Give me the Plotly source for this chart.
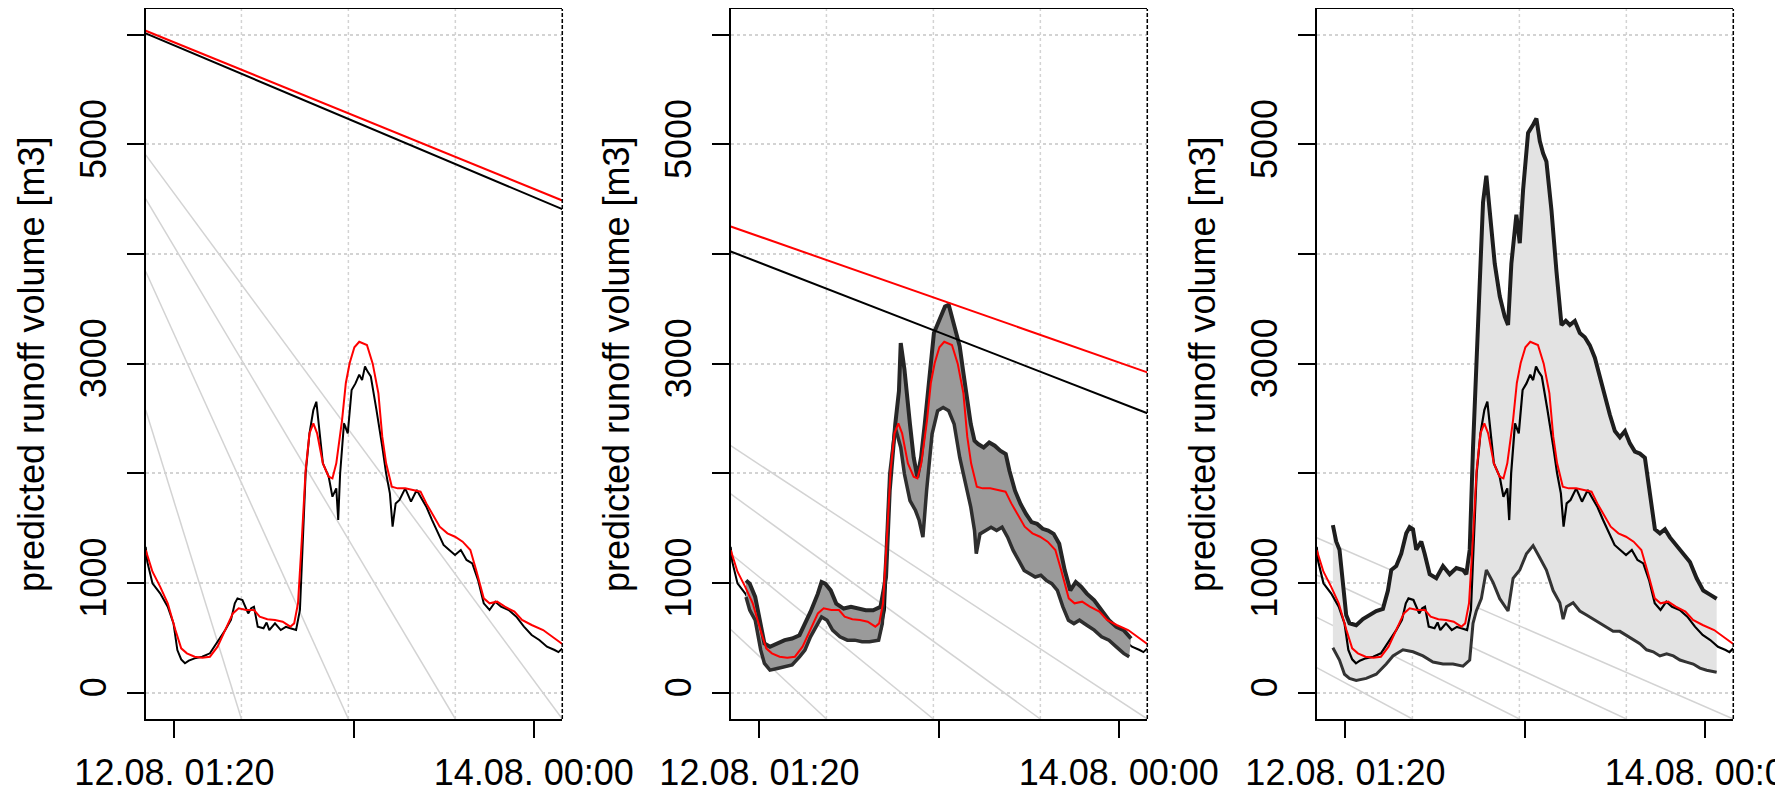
import plotly.graph_objects as go

FONT = "Liberation Sans, Arial, Helvetica, sans-serif"

# ---------------- data (time in hours since 11.08. 00:00) ----------------
X_RANGE = [21.6, 75.7]
Y_RANGE = [-240, 6234]
x_tick_hours = [25.3333, 48.6667, 72.0]
x_tick_labels = ["12.08. 01:20", "", "14.08. 00:00"]
y_tick_vals = [0, 1000, 2000, 3000, 4000, 5000, 6000]
y_tick_labels = ["0", "1000", "", "3000", "", "5000", ""]
grid_hours = [34.03, 47.92, 61.81, 75.70]
y_title = "predicted runoff volume [m3]"

# observed / single prediction (black)
obs_t = [21.6, 21.8, 22.48, 23.47, 24.46, 25.21, 25.71, 26.21, 26.7, 27.20, 27.95, 28.94, 29.94,
         30.93, 31.93, 32.67, 33.17, 33.52, 34.16, 34.91, 35.3, 35.66, 36.15, 36.90, 37.3,
         37.65, 38.39, 39.14, 39.8, 40.38, 41.13, 41.63, 41.87, 42.12, 42.37, 42.87, 43.37,
         43.76, 44.11, 44.61, 45.36, 45.85, 46.35, 46.60, 46.85, 47.35, 47.84, 48.34, 48.84,
         49.33, 49.7, 50.08, 50.4, 50.83, 51.57, 51.82, 52.32, 52.82, 53.31, 53.66, 54.06,
         54.56, 55.30, 56.05, 56.80, 57.29, 58.04, 58.79, 59.53, 60.28, 61.02, 61.77, 62.52,
         63.26, 64.01, 64.76, 65.50, 66.25, 67.00, 67.74, 68.74, 69.73, 70.72, 71.72, 72.71,
         73.71, 74.70, 75.2, 75.70]
obs_v = [1330, 1195, 997, 906, 784, 632, 389, 304, 268, 292, 313, 328, 359,
         465, 571, 663, 815, 860, 845, 723, 770, 784, 602, 587, 640,
         571, 632, 571, 600, 587, 571, 754, 1179, 1544, 2000, 2365, 2577,
         2653, 2395, 2091, 1970, 1787, 1863, 1574, 2000, 2456, 2365, 2760, 2820,
         2900, 2850, 2975, 2930, 2884, 2577, 2471, 2243, 2000, 1818, 1514, 1726,
         1757, 1863, 1742, 1848, 1787, 1696, 1574, 1453, 1347, 1301, 1255, 1301,
         1210, 1179, 1027, 815, 754, 830, 784, 754, 693, 602, 526, 480,
         419, 389, 370, 404]

# smoothed prediction (red)
smooth_t = [21.6, 22.48, 23.47, 24.46, 25.46, 26.21, 26.95, 27.95, 28.94, 29.94, 30.93, 31.93,
            32.92, 33.67, 34.66, 35.66, 36.40, 37.40, 38.39, 39.39, 40.38, 40.88, 41.38,
            41.87, 42.37, 42.87, 43.37, 43.86, 44.61, 45.36, 45.85, 46.35, 47.10, 47.59,
            48.09, 48.7, 49.33, 50.33, 51.08, 51.82, 52.32, 52.82, 53.56, 54.31, 55.30,
            56.30, 57.29, 58.04, 58.79, 59.78, 60.78, 61.77, 62.76, 63.76, 64.51, 65.50,
            66.25, 67.24, 68.24, 69.48, 70.47, 71.72, 73.21, 74.46, 75.70]
smooth_v = [1300, 1103, 967, 815, 571, 404, 359, 328, 319, 328, 419, 571,
            723, 769, 754, 754, 693, 669, 663, 647, 602, 632, 815,
            1392, 2030, 2365, 2456, 2365, 2091, 1970, 1954, 2091, 2486, 2824,
            3006, 3150, 3200, 3170, 3000, 2729, 2334, 2091, 1878, 1863, 1863,
            1848, 1833, 1726, 1635, 1514, 1453, 1422, 1377, 1301, 1119, 860,
            815, 830, 784, 739, 663, 617, 571, 511, 444]

# straight reference lines, values at the left and right ends of the x range
line_black_p1 = [6012, 4409]
line_red_p1 = [6036, 4488]
line_black_p2 = [4023, 2548]
line_red_p2 = [4251, 2921]

# light grey guide lines: value at the left edge, reaching the bottom at grid_hours
guide_start_p1 = [2577, 3841, 4503, 4904]
guide_start_p2 = [576, 1267, 1812, 2252]
guide_start_p3 = [228, 687, 1073, 1413]

# ensemble envelope, panel 2
ens2_up_t = [23.59, 24.07, 24.78, 25.50, 25.98, 26.70, 27.65, 28.61, 29.57, 30.53, 31.24, 31.96,
             32.92, 33.40, 33.88, 34.59, 35.31, 36.27, 37.22, 38.18, 39.14, 40.10, 41.05,
             41.77, 42.25, 42.97, 43.45, 43.68, 44.16, 44.88, 45.36, 45.84, 46.32, 46.80,
             47.51, 47.99, 48.71, 49.43, 49.91, 50.38, 50.86, 51.34, 51.82, 52.30, 52.78,
             53.26, 53.73, 54.45, 55.17, 55.89, 56.60, 57.32, 57.80, 58.52, 59.24, 59.95,
             60.67, 61.39, 62.11, 62.83, 63.54, 64.26, 64.98, 65.70, 66.41, 67.13, 67.85,
             68.81, 69.76, 70.72, 71.68, 72.63, 73.59]
ens2_up_v = [1024, 994, 873, 630, 448, 418, 448, 479, 494, 524, 630, 736,
             903, 1009, 994, 933, 812, 767, 782, 767, 752, 752, 782,
             1055, 1842, 2448, 2752, 3188, 2950, 2448, 2145, 1964, 2145, 2448,
             2975, 3279, 3400, 3522, 3537, 3400, 3279, 3158, 2915, 2690, 2448,
             2297, 2267, 2236, 2282, 2252, 2206, 2176, 2024, 1842, 1721, 1630,
             1555, 1539, 1494, 1479, 1448, 1358, 1115, 933, 1009, 964, 903,
             842, 752, 661, 600, 570, 494]
ens2_lo_t = [23.59, 24.07, 24.78, 25.50, 25.98, 26.70, 27.65, 28.61, 29.57, 30.53, 31.24, 31.96,
             32.92, 33.40, 34.11, 34.83, 35.79, 36.75, 37.70, 38.66, 39.62, 40.81, 41.29,
             41.77, 42.25, 42.97, 43.68, 44.16, 44.88, 45.60, 46.08, 46.56, 47.04, 47.75,
             48.47, 49.19, 49.91, 50.62, 51.34, 52.06, 52.78, 53.26, 53.49, 53.97, 54.69,
             55.41, 56.13, 56.84, 57.56, 58.28, 59.00, 59.71, 60.43, 61.15, 61.87, 62.58,
             63.30, 64.02, 64.74, 65.46, 66.17, 66.89, 67.85, 68.81, 69.76, 70.72, 71.68,
             72.63, 73.35]
ens2_lo_v = [873, 752, 661, 388, 267, 206, 221, 236, 252, 327, 388, 509,
             630, 691, 661, 570, 509, 479, 479, 464, 464, 479, 630,
             1236, 1994, 2418, 2236, 1994, 1752, 1661, 1570, 1418, 1842, 2358,
             2570, 2600, 2570, 2448, 2145, 1903, 1691, 1479, 1267, 1448, 1479,
             1509, 1479, 1509, 1418, 1297, 1206, 1115, 1085, 1055, 1070, 1024,
             994, 933, 782, 661, 630, 661, 615, 570, 509, 479, 418,
             358, 327]

# ensemble envelope, panel 3
ens3_up_t = [23.70, 24.13, 24.56, 25.00, 25.43, 25.86, 26.73, 27.60, 28.46, 29.33, 30.20, 30.85,
             31.28, 31.93, 32.58, 33.23, 33.67, 34.10, 34.53, 35.18, 35.62, 36.27, 37.13,
             38.00, 38.87, 39.73, 40.60, 41.03, 41.47, 41.90, 42.55, 43.20, 43.63, 44.07,
             44.72, 45.37, 46.02, 46.45, 46.88, 47.53, 47.97, 48.40, 49.05, 49.70, 50.13,
             50.57, 51.00, 51.43, 52.09, 52.74, 53.39, 53.95, 54.47, 55.12, 55.77, 56.42,
             57.07, 57.72, 58.37, 59.02, 59.67, 60.32, 60.97, 61.62, 62.27, 62.92, 63.57,
             64.22, 64.87, 65.52, 66.17, 66.82, 67.47, 68.34, 69.20, 70.07, 70.94, 71.80,
             72.67, 73.54]
ens3_up_v = [1528, 1379, 1304, 1006, 708, 633, 615, 671, 708, 745, 764, 931,
             1118, 1155, 1267, 1453, 1509, 1490, 1304, 1379, 1267, 1080, 1043,
             1155, 1080, 1136, 1118, 1080, 1304, 2235, 3353, 4471, 4713, 4396,
             3912, 3614, 3428, 3353, 3912, 4359, 4098, 4583, 5104, 5179, 5235,
             5030, 4918, 4844, 4396, 3837, 3353, 3390, 3353, 3390, 3279, 3241,
             3167, 3055, 2869, 2720, 2534, 2385, 2329, 2385, 2273, 2198, 2180,
             2142, 1826, 1490, 1453, 1490, 1416, 1341, 1267, 1192, 1043, 931,
             894, 857]
ens3_lo_t = [23.70, 24.56, 25.21, 25.86, 26.73, 28.03, 29.33, 30.63, 31.50, 32.80, 34.10, 35.40,
             36.70, 38.00, 39.30, 40.60, 41.47, 41.90, 42.33, 42.98, 43.63, 44.50, 45.37,
             46.45, 47.10, 47.97, 48.84, 49.70, 50.57, 51.43, 52.30, 53.17, 53.60, 54.04,
             54.90, 55.77, 56.64, 57.50, 58.37, 59.24, 60.10, 60.97, 61.84, 62.70, 63.57,
             64.44, 65.30, 66.17, 67.04, 67.91, 68.77, 69.64, 70.50, 71.37, 72.24, 73.54]
ens3_lo_v = [410, 298, 168, 130, 112, 130, 168, 261, 335, 391, 373, 335,
             279, 261, 261, 242, 298, 633, 745, 857, 1118, 1006, 857,
             745, 1043, 1118, 1267, 1341, 1230, 1118, 931, 820, 671, 783,
             820, 745, 708, 671, 633, 596, 559, 559, 522, 484, 447,
             391, 373, 335, 354, 335, 298, 279, 261, 224, 205, 186]

# ---------------- figure ----------------
# the page body has an 8px margin, so the figure is laid out in a frame offset by 8px
OFF = 8
W, H = 1783 - OFF, 787 - OFF
panel_px = [(145.7, 562.3), (730.7, 1147.3), (1316.7, 1733.3)]
y_px = (9, 719)
title_x_px = [31, 616, 1202]

fig = go.Figure()

def ax(i):
    return ("x" if i == 0 else f"x{i+1}"), ("y" if i == 0 else f"y{i+1}")

def add_line(i, xs, ys, color, width):
    xa, ya = ax(i)
    fig.add_trace(go.Scatter(x=xs, y=ys, mode="lines", xaxis=xa, yaxis=ya,
                             line=dict(color=color, width=width), hoverinfo="skip",
                             showlegend=False))

def add_band(i, ut, uv, lt, lv, fill, edge_up, w_up, edge_lo, w_lo):
    xa, ya = ax(i)
    fig.add_trace(go.Scatter(x=list(ut) + list(lt)[::-1], y=list(uv) + list(lv)[::-1],
                             mode="lines", fill="toself", fillcolor=fill,
                             line=dict(width=0, color=fill), xaxis=xa, yaxis=ya,
                             hoverinfo="skip", showlegend=False))
    add_line(i, ut, uv, edge_up, w_up)
    add_line(i, lt, lv, edge_lo, w_lo)

def add_guides(i, starts):
    for v0, tg in zip(starts, grid_hours):
        add_line(i, [X_RANGE[0], tg], [v0, Y_RANGE[0]], "#d3d3d3", 1.5)

# panel 1
add_guides(0, guide_start_p1)
add_line(0, obs_t, obs_v, "black", 2)
add_line(0, smooth_t, smooth_v, "#ff0000", 2)
add_line(0, X_RANGE, line_black_p1, "black", 2)
add_line(0, X_RANGE, line_red_p1, "#ff0000", 2)

# panel 2
add_guides(1, guide_start_p2)
add_line(1, obs_t, obs_v, "black", 2)
add_band(1, ens2_up_t, ens2_up_v, ens2_lo_t, ens2_lo_v, "#9a9a9a", "#262626", 4, "#2e2e2e", 3.5)
add_line(1, smooth_t, smooth_v, "#ff0000", 2)
add_line(1, X_RANGE, line_black_p2, "black", 2)
add_line(1, X_RANGE, line_red_p2, "#ff0000", 2)

# panel 3
add_guides(2, guide_start_p3)
add_band(2, ens3_up_t, ens3_up_v, ens3_lo_t, ens3_lo_v, "#e3e3e3", "#1e1e1e", 4, "#333333", 3)
add_line(2, obs_t, obs_v, "black", 2.2)
add_line(2, smooth_t, smooth_v, "#ff0000", 2)

shapes = []
annotations = []
layout = dict(width=W, height=H, autosize=False,
              margin=dict(l=0, r=0, t=0, b=0, pad=0, autoexpand=False),
              paper_bgcolor="white", plot_bgcolor="white",
              font=dict(family=FONT, size=36, color="black"))
for i, (x0, x1) in enumerate(panel_px):
    xa, ya = ax(i)
    xk = "xaxis" if i == 0 else f"xaxis{i+1}"
    yk = "yaxis" if i == 0 else f"yaxis{i+1}"
    layout[xk] = dict(domain=[(x0 - OFF) / W, (x1 - OFF) / W], range=X_RANGE, anchor=ya,
                      automargin=False, ticklabeloverflow="allow",
                      tickmode="array", tickvals=x_tick_hours, ticktext=x_tick_labels,
                      ticks="outside", ticklen=17, tickwidth=2, tickcolor="black",
                      ticklabelstandoff=4,
                      showline=True, linecolor="black", linewidth=2, mirror=True,
                      showgrid=False, zeroline=False,
                      tickfont=dict(family=FONT, size=36, color="black"))
    layout[yk] = dict(domain=[1 - (y_px[1] - OFF) / H, 1 - (y_px[0] - OFF) / H],
                      range=Y_RANGE, anchor=xa, automargin=False, ticklabeloverflow="allow",
                      tickmode="array", tickvals=y_tick_vals, ticktext=y_tick_labels,
                      tickangle=-90, ticks="outside", ticklen=17, tickwidth=2,
                      ticklabelstandoff=6,
                      tickcolor="black", showline=True, linecolor="black", linewidth=2,
                      showgrid=True, gridcolor="#d3d3d3", gridwidth=1.5, griddash="dot",
                      zeroline=False, tickfont=dict(family=FONT, size=36, color="black"))
    for g in grid_hours:
        shapes.append(dict(type="line", xref=xa, yref=f"{ya} domain", x0=g, x1=g, y0=0, y1=1,
                           line=dict(color="#d3d3d3", width=1.5, dash="dot"), layer="below"))
    shapes.append(dict(type="line", xref=f"{xa} domain", yref=f"{ya} domain", x0=1, x1=1,
                       y0=0, y1=1, line=dict(color="black", width=1.5, dash="4px,2px"),
                       layer="above"))
    annotations.append(dict(text=y_title, xref="paper", yref="paper",
                            x=(title_x_px[i] - OFF) / W, y=1 - (sum(y_px) / 2 - OFF) / H,
                            xanchor="center", yanchor="middle", textangle=-90,
                            showarrow=False, font=dict(family=FONT, size=36, color="black")))
layout["shapes"] = shapes
layout["annotations"] = annotations
fig.update_layout(**layout)

fig.write_html("out.html", config={"displayModeBar": False})
